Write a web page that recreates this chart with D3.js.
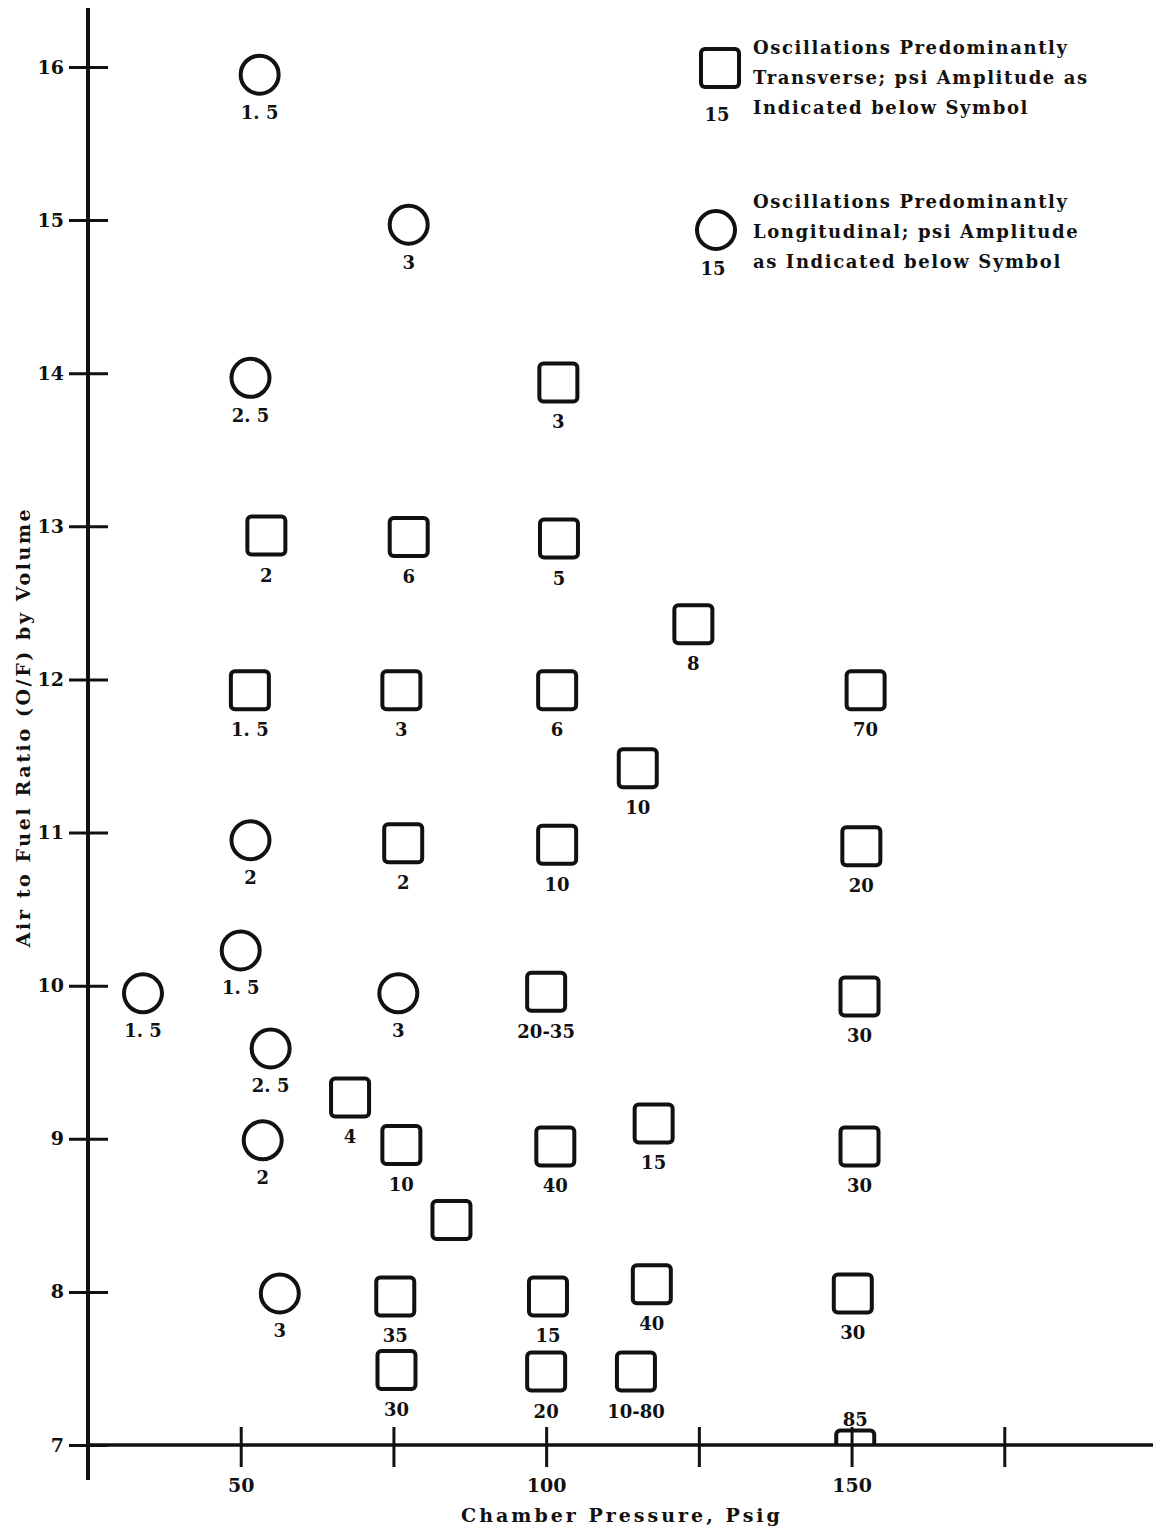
<!DOCTYPE html>
<html>
<head>
<meta charset="utf-8">
<script src="https://cdn.jsdelivr.net/npm/d3@7"></script>
<style>
  body { margin: 0; background: #fff; }
  text { font-family: "DejaVu Serif", serif; font-weight: bold; fill: #111; }
</style>
</head>
<body>
<svg id="chart" width="1153" height="1529"></svg>
<script>
// longitudinal oscillations (circles)
var circlePressure = [53.1, 77.5, 51.6, 51.6, 50.0, 34.0, 75.8, 54.9, 53.6, 56.4];
var circleRatio    = [15.95, 14.97, 13.97, 10.95, 10.23, 9.95, 9.95, 9.59, 8.99, 7.99];
var circleAmp      = ['1. 5', '3', '2. 5', '2', '1. 5', '1. 5', '3', '2. 5', '2', '3'];

// transverse oscillations (squares)
var squarePressure = [102.0, 54.2, 77.5, 102.1, 124.1, 51.5, 76.3, 101.8, 152.3, 115.0,
                      76.6, 101.8, 151.6, 100.0, 151.3, 67.9, 76.3, 101.5, 117.6, 151.3,
                      84.5, 75.3, 100.3, 117.3, 150.2, 75.5, 100.0, 114.7, 150.6];
var squareRatio    = [13.94, 12.94, 12.93, 12.92, 12.36, 11.93, 11.93, 11.93, 11.93, 11.42,
                      10.93, 10.92, 10.91, 9.96, 9.93, 9.27, 8.96, 8.95, 9.10, 8.95,
                      8.47, 7.97, 7.97, 8.05, 7.99, 7.49, 7.48, 7.48, 6.97];
var squareAmp      = ['3', '2', '6', '5', '8', '1. 5', '3', '6', '70', '10',
                      '2', '10', '20', '20-35', '30', '4', '10', '40', '15', '30',
                      '', '35', '15', '40', '30', '30', '20', '10-80', '85'];

var xTicks = [50, 75, 100, 125, 150, 175];
var xTickLabels = ['50', '', '100', '', '150', ''];
var yTicks = [7, 8, 9, 10, 11, 12, 13, 14, 15, 16];

var legendSquare = ['Oscillations Predominantly', 'Transverse; psi Amplitude as', 'Indicated below Symbol'];
var legendCircle = ['Oscillations Predominantly', 'Longitudinal; psi Amplitude', 'as Indicated below Symbol'];

var svg = d3.select('#chart');
var x = d3.scaleLinear().domain([25, 200]).range([88, 1157]);
var y = d3.scaleLinear().domain([7, 16]).range([1445, 67]);

svg.append('defs').append('clipPath').attr('id', 'plot')
  .append('rect').attr('x', 0).attr('y', 0).attr('width', 1153).attr('height', y(7));

// axes lines
svg.append('line')
  .attr('x1', x(25)).attr('x2', x(25))
  .attr('y1', 8).attr('y2', 1480)
  .attr('stroke', '#111').attr('stroke-width', 4);
svg.append('line')
  .attr('x1', x(25)).attr('x2', 1153)
  .attr('y1', y(7)).attr('y2', y(7))
  .attr('stroke', '#111').attr('stroke-width', 3.5);

// y ticks cross the axis
var yAxis = d3.axisLeft(y).tickValues(yTicks).tickSize(0).tickPadding(24).tickFormat(d3.format('d'));
var gy = svg.append('g').attr('transform', 'translate(' + x(25) + ',0)').call(yAxis);
gy.select('.domain').remove();
gy.selectAll('.tick text').attr('font-size', 19).attr('font-family', '"DejaVu Serif", serif').attr('font-weight', 'bold');
gy.selectAll('.tick').append('line')
  .attr('x1', -19).attr('x2', 20)
  .attr('stroke', '#111').attr('stroke-width', 3);
gy.selectAll('.tick').filter(function(d) { return d === 7; }).select('line').attr('x2', 0);

// x ticks
var xAxis = d3.axisBottom(x).tickValues(xTicks).tickSize(0).tickPadding(34)
  .tickFormat(function(d, i) { return xTickLabels[i]; });
var gx = svg.append('g').attr('transform', 'translate(0,' + y(7) + ')').call(xAxis);
gx.select('.domain').remove();
gx.selectAll('.tick text').attr('font-size', 19).attr('font-family', '"DejaVu Serif", serif').attr('font-weight', 'bold');
gx.selectAll('.tick').append('line')
  .attr('y1', -18).attr('y2', 22)
  .attr('stroke', '#111').attr('stroke-width', 3);

// axis titles
svg.append('text')
  .attr('x', 622).attr('y', 1522)
  .attr('text-anchor', 'middle')
  .attr('font-size', 19).attr('letter-spacing', 3)
  .text('Chamber Pressure,  Psig');
svg.append('text')
  .attr('transform', 'translate(30,727) rotate(-90)')
  .attr('text-anchor', 'middle')
  .attr('font-size', 19).attr('letter-spacing', 2.6)
  .text('Air to Fuel Ratio (O/F) by Volume');

// data
var circles = circlePressure.map(function(p, i) {
  return { p: p, r: circleRatio[i], a: circleAmp[i] };
});
var squares = squarePressure.map(function(p, i) {
  return { p: p, r: squareRatio[i], a: squareAmp[i] };
});

var marks = svg.append('g').attr('clip-path', 'url(#plot)');

marks.selectAll('circle.osc')
  .data(circles)
  .enter()
  .append('circle')
  .classed('osc', true)
  .attr('cx', function(d) { return x(d.p); })
  .attr('cy', function(d) { return y(d.r); })
  .attr('r', 19)
  .attr('fill', 'none')
  .attr('stroke', '#111')
  .attr('stroke-width', 4);

marks.selectAll('rect.osc')
  .data(squares)
  .enter()
  .append('rect')
  .classed('osc', true)
  .attr('x', function(d) { return x(d.p) - 19; })
  .attr('y', function(d) { return y(d.r) - 19; })
  .attr('width', 38).attr('height', 38)
  .attr('rx', 4)
  .attr('fill', 'none')
  .attr('stroke', '#111')
  .attr('stroke-width', 4);

svg.selectAll('text.camp')
  .data(circles)
  .enter()
  .append('text')
  .classed('camp', true)
  .attr('text-anchor', 'middle')
  .attr('x', function(d) { return x(d.p); })
  .attr('y', function(d) { return y(d.r) + 44; })
  .attr('font-size', 18)
  .text(function(d) { return d.a; });

svg.selectAll('text.samp')
  .data(squares)
  .enter()
  .append('text')
  .classed('samp', true)
  .attr('text-anchor', 'middle')
  .attr('x', function(d) { return x(d.p); })
  .attr('y', function(d) { return d.r < 7.2 ? y(d.r) - 24 : y(d.r) + 46; })
  .attr('font-size', 18)
  .text(function(d) { return d.a; });

// legend
var lg1 = svg.append('g').attr('transform', 'translate(720,68)');
lg1.append('rect').attr('x', -19).attr('y', -19).attr('width', 38).attr('height', 38).attr('rx', 4)
  .attr('fill', 'none').attr('stroke', '#111').attr('stroke-width', 4);
lg1.append('text').attr('x', -3).attr('y', 53).attr('text-anchor', 'middle').attr('font-size', 18).text('15');
lg1.selectAll('text.ln').data(legendSquare).enter().append('text').classed('ln', true)
  .attr('x', 33).attr('y', function(d, i) { return -14 + i * 30; })
  .attr('font-size', 18).attr('letter-spacing', 1.6)
  .text(function(d) { return d; });

var lg2 = svg.append('g').attr('transform', 'translate(716,230)');
lg2.append('circle').attr('r', 19)
  .attr('fill', 'none').attr('stroke', '#111').attr('stroke-width', 4);
lg2.append('text').attr('x', -3).attr('y', 45).attr('text-anchor', 'middle').attr('font-size', 18).text('15');
lg2.selectAll('text.ln').data(legendCircle).enter().append('text').classed('ln', true)
  .attr('x', 37).attr('y', function(d, i) { return -22 + i * 30; })
  .attr('font-size', 18).attr('letter-spacing', 1.6)
  .text(function(d) { return d; });
</script>
</body>
</html>
